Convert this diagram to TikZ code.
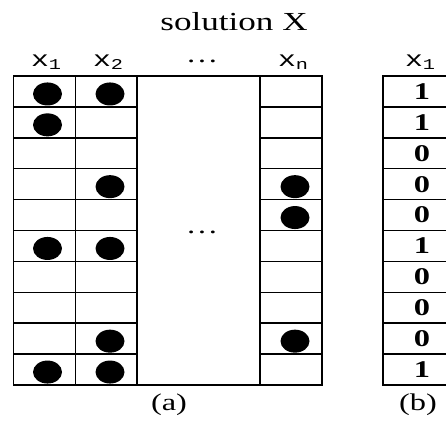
\documentclass[tikz,border=0pt]{standalone}
\usepackage{fontspec}
\setmainfont{Liberation Serif}
\newfontfamily\labelmono{Liberation Mono}
\newcommand\widetxt[1]{\scalebox{1.35}[1]{#1}}
\newcommand\varlab[1]{\widetxt{\labelmono\fontsize{22}{22}\selectfont x\raisebox{-0.25ex}{\fontsize{15}{15}\selectfont #1}}}
\begin{document}
\begin{tikzpicture}[x=1pt,y=-1pt,
  grid/.style={line width=1.5pt},
  title/.style={inner sep=0pt, font=\fontsize{26}{26}\selectfont},
  caption/.style={inner sep=0pt, font=\fontsize{24}{24}\selectfont},
  bit/.style={inner sep=0pt, font=\bfseries\fontsize{24}{24}\selectfont},
  varname/.style={inner sep=0pt}]
\useasboundingbox (0,0) rectangle (446,420);

% table (a): columns x1, x2, ..., xn
\draw[grid] (13.5,76) rectangle (322,385);
\foreach \cx in {75.5,137,260} \draw[grid] (\cx,76) -- (\cx,385);
\foreach \r in {1,...,9} {
  \draw[grid] (13.5,{76+\r*30.9}) -- (137,{76+\r*30.9});
  \draw[grid] (260,{76+\r*30.9}) -- (322,{76+\r*30.9});
}

% filled markers: column centre, row index
\foreach \cx/\r in {47.5/1,47.5/2,47.5/6,47.5/10,
                    110/1,110/4,110/6,110/9,110/10,
                    295/4,295/5,295/9}
  \fill (\cx,{76+(\r-0.5)*30.9+2.5}) ellipse (14.5 and 11.5);

% table (b): one column of bits, running off the right edge
\begin{scope}
  \clip (0,0) rectangle (446,420);
  \draw[grid] (383,76) rectangle (461,385);
  \foreach \r in {1,...,9} \draw[grid] (383,{76+\r*30.9}) -- (461,{76+\r*30.9});
\end{scope}
\foreach \b [count=\r] in {1,1,0,0,0,1,0,0,0,1}
  \node[bit] (b\r) at (422,{76+(\r-0.5)*30.9}) {\widetxt{\b}};

% headings
\node[title] (title) at (234,22) {\widetxt{solution X}};
\node[varname] (h1) at (46,62) {\varlab{1}};
\node[varname] (h2) at (108,62) {\varlab{2}};
\node[caption] (hdots) at (202,61) {\widetxt{…}};
\node[varname] (hn) at (293,62) {\varlab{n}};
\node[varname] (hb) at (420,62) {\varlab{1}};
\node[caption] (mdots) at (202,232) {\widetxt{…}};

% captions
\node[caption] (capa) at (169,405) {\widetxt{(a)}};
\node[caption] (capb) at (418,405) {\widetxt{(b)}};
\end{tikzpicture}
\end{document}
